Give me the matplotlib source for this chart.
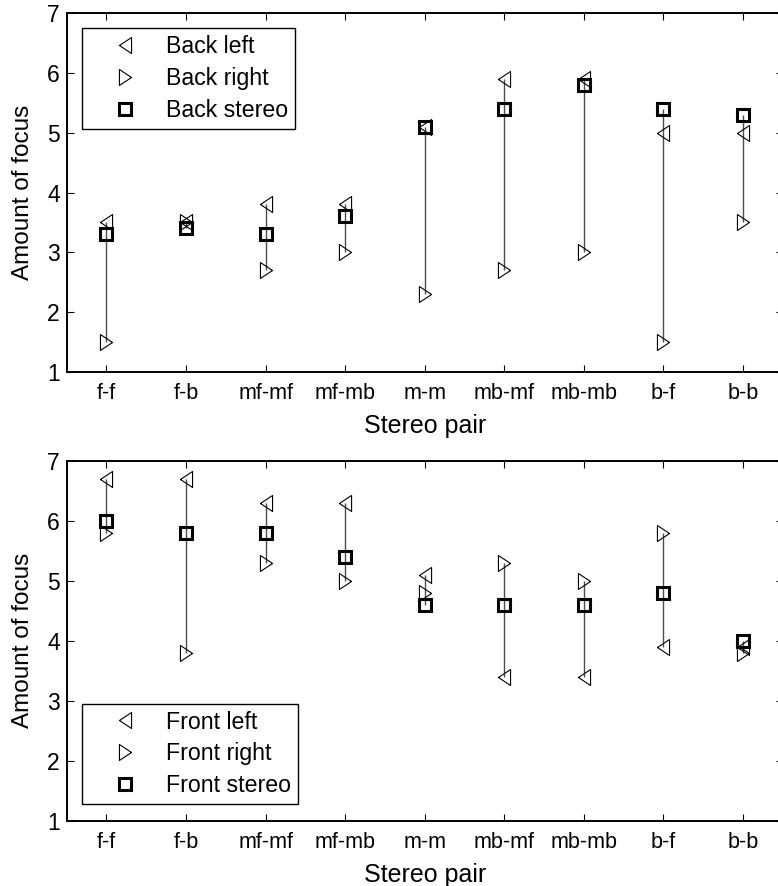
import numpy as np
from matplotlib import pyplot as plt
from matplotlib.lines import Line2D

plt.rcParams['font.family'] = ['Liberation Sans', 'DejaVu Sans']

pairs = ['f-f', 'f-b', 'mf-mf', 'mf-mb', 'm-m', 'mb-mf', 'mb-mb', 'b-f', 'b-b']

back_left = [3.5, 3.5, 3.8, 3.8, 5.1, 5.9, 5.9, 5.0, 5.0]
back_right = [1.5, 3.5, 2.7, 3.0, 2.3, 2.7, 3.0, 1.5, 3.5]
back_stereo = [3.3, 3.4, 3.3, 3.6, 5.1, 5.4, 5.8, 5.4, 5.3]

front_left = [6.7, 6.7, 6.3, 6.3, 5.1, 3.4, 3.4, 3.9, 3.9]
front_right = [5.8, 3.8, 5.3, 5.0, 4.8, 5.3, 5.0, 5.8, 3.8]
front_stereo = [6.0, 5.8, 5.8, 5.4, 4.6, 4.6, 4.6, 4.8, 4.0]

# narrow matlab-like triangles
left_tri = [(-0.76, 0), (0.76, 1), (0.76, -1), (-0.76, 0)]
right_tri = [(0.76, 0), (-0.76, 1), (-0.76, -1), (0.76, 0)]


def plot_panel(ax, left, right, stereo, names, legend_loc, legend_anchor):
    x = np.arange(1, len(pairs) + 1)
    left = np.array(left)
    right = np.array(right)
    stereo = np.array(stereo)
    lows = np.minimum(np.minimum(left, right), stereo)
    highs = np.maximum(np.maximum(left, right), stereo)
    ax.vlines(x, lows, highs, color='0.3', lw=1.0, zorder=1)

    ax.plot(x, left, linestyle='none', marker=left_tri, ms=11.5,
            mfc='none', mec='black', mew=0.8, zorder=2)
    ax.plot(x, right, linestyle='none', marker=right_tri, ms=11.5,
            mfc='none', mec='black', mew=0.8, zorder=2)
    ax.plot(x, stereo, linestyle='none', marker='s', ms=8.8,
            mfc='none', mec='black', mew=2.2, zorder=3)

    ax.set_xlim(0.5, 9.5)
    ax.set_ylim(1, 7)
    ax.set_xticks(x)
    ax.set_xticklabels(pairs, fontsize=15.5)
    ax.set_yticks(range(1, 8))
    ax.tick_params(axis='y', labelsize=16.5, pad=5)
    ax.tick_params(direction='in', length=5, width=0.8, top=True, right=True)
    ax.tick_params(axis='x', pad=8)
    for spine in ax.spines.values():
        spine.set_linewidth(1.4)
    ax.set_xlabel('Stereo pair', fontsize=18, labelpad=7)
    ax.set_ylabel('Amount of focus', fontsize=17.5, labelpad=9)

    handles = [
        Line2D([], [], linestyle='none', marker=left_tri, ms=11.5,
               mfc='none', mec='black', mew=0.8),
        Line2D([], [], linestyle='none', marker=right_tri, ms=11.5,
               mfc='none', mec='black', mew=0.8),
        Line2D([], [], linestyle='none', marker='s', ms=8.8,
               mfc='none', mec='black', mew=2.2),
    ]
    leg = ax.legend(handles, names, loc=legend_loc, bbox_to_anchor=legend_anchor,
                    borderaxespad=0, fontsize=16.7, fancybox=False, framealpha=1,
                    edgecolor='black', handlelength=3.1, handletextpad=0.25,
                    borderpad=0.3, labelspacing=0.38)
    leg.get_frame().set_linewidth(1.0)


fig = plt.figure(figsize=(7.78, 8.86), dpi=100)

top_ax = fig.add_axes([0.0857, 0.5801, 0.9204, 0.4052])
plot_panel(top_ax, back_left, back_right, back_stereo,
           ['Back left', 'Back right', 'Back stereo'],
           'upper left', (0.021, 0.958))

bottom_ax = fig.add_axes([0.0857, 0.0737, 0.9204, 0.4060])
plot_panel(bottom_ax, front_left, front_right, front_stereo,
           ['Front left', 'Front right', 'Front stereo'],
           'lower left', (0.021, 0.046))

fig.savefig('out.png', dpi=100)
